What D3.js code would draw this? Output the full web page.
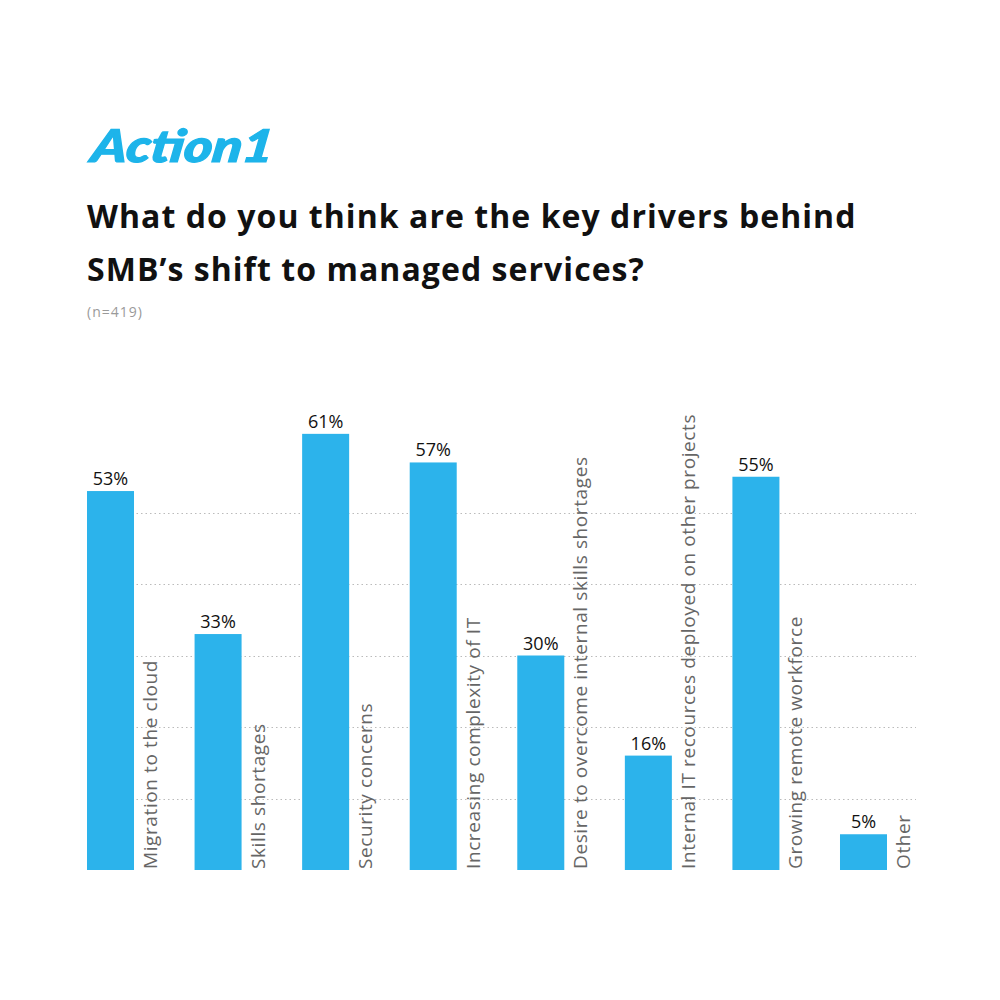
<!DOCTYPE html>
<html><head><meta charset="utf-8">
<script src="https://cdn.jsdelivr.net/npm/d3@7"></script>
<style>body{margin:0;background:#fff}svg{display:block}</style>
</head><body>
<script>
const categories = ["Migration to the cloud","Skills shortages","Security concerns","Increasing complexity of IT","Desire to overcome internal skills shortages","Internal IT recources deployed on other projects","Growing remote workforce","Other"];
const values = [53,33,61,57,30,16,55,5];
const gridTicks = [10,20,30,40,50];

const W=1000,H=1000;
const svg=d3.select("body").append("svg").attr("width",W).attr("height",H);
svg.append("rect").attr("width",W).attr("height",H).attr("fill","#fff");

// logo
svg.append("text").attr("x",0).attr("y",0).text("Action1")
  .attr("transform","translate(90,162) skewX(-8)")
  .attr("font-family","Lato, 'Open Sans', sans-serif").attr("font-weight",900).attr("font-style","italic")
  .attr("font-size",45).attr("fill","#1DB4EA").attr("stroke","#1DB4EA").attr("stroke-width",1.2)
  .attr("textLength",182).attr("lengthAdjust","spacingAndGlyphs");

// title
const title=["What do you think are the key drivers behind","SMB\u2019s shift to managed services?"];
svg.selectAll("text.title").data(title).join("text").attr("class","title")
  .attr("x",87).attr("y",(d,i)=>228+i*53).text(d=>d)
  .attr("font-family","'Open Sans', sans-serif").attr("font-weight",700).attr("font-size",32)
  .attr("letter-spacing",1.05).attr("fill","#111");
svg.append("text").attr("x",87).attr("y",317).text("(n=419)")
  .attr("font-family","'Open Sans', sans-serif").attr("font-size",14).attr("letter-spacing",1)
  .attr("fill","#9a9a9a");

const x=d3.scaleBand().domain(categories).range([87,887]).paddingInner(0.563).paddingOuter(0).align(0);
const y=d3.scaleLinear().domain([0,61]).range([870,870-61*7.15]);

const plotRight=916;
svg.append("g").selectAll("line").data(gridTicks).join("line")
  .attr("x1",87).attr("x2",plotRight).attr("y1",d=>Math.round(y(d))+0.5).attr("y2",d=>Math.round(y(d))+0.5)
  .attr("stroke","#bbb").attr("stroke-width",1).attr("stroke-dasharray","1.5,3");

svg.append("g").selectAll("rect").data(values).join("rect")
  .attr("x",(d,i)=>x(categories[i])).attr("width",x.bandwidth())
  .attr("y",d=>y(d)).attr("height",d=>870-y(d)).attr("fill","#2CB3EB");

svg.append("g").selectAll("text").data(values).join("text")
  .attr("x",(d,i)=>x(categories[i])+x.bandwidth()/2).attr("y",d=>y(d)-6)
  .attr("text-anchor","middle").text(d=>d+"%")
  .attr("font-family","'Open Sans', sans-serif").attr("font-size",18).attr("fill","#111");

svg.append("g").selectAll("text").data(categories).join("text")
  .attr("transform",d=>`translate(${x(d)+x.bandwidth()+23},869) rotate(-90)`)
  .attr("text-anchor","start").text(d=>d)
  .attr("font-family","'Open Sans', sans-serif").attr("font-size",19).attr("letter-spacing",0.6)
  .attr("fill","#666");
</script>
</body></html>
